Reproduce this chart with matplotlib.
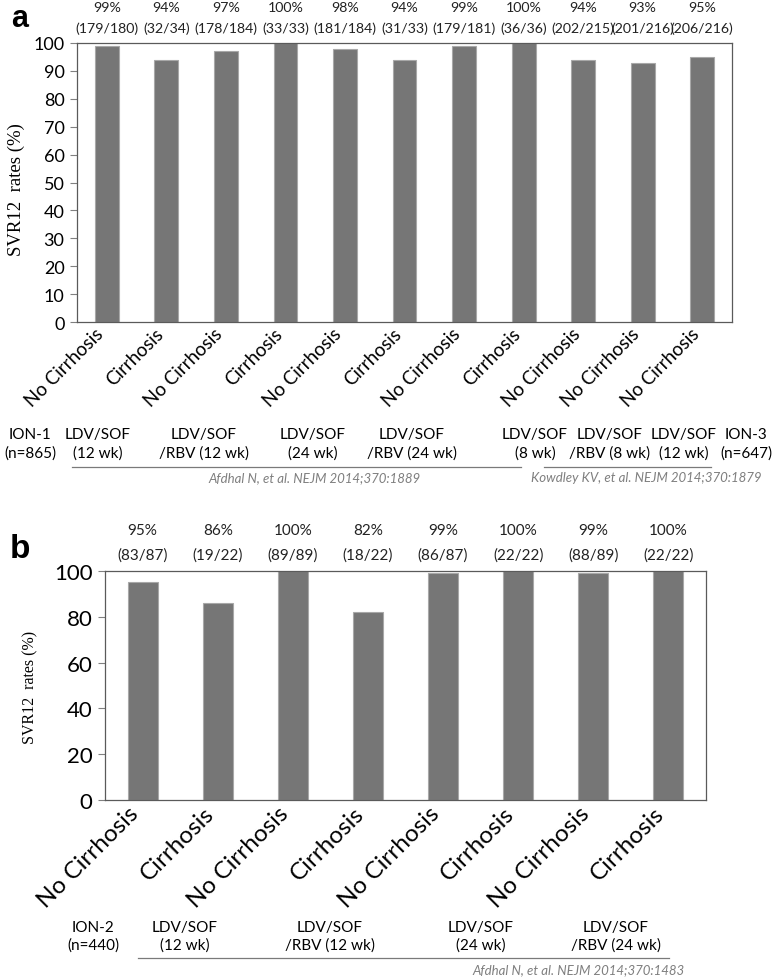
import matplotlib
matplotlib.use('Agg')
import matplotlib.pyplot as plt
from matplotlib.lines import Line2D
import matplotlib.transforms as mtransforms

plt.rcParams.update({
    'font.family': ['Lato', 'DejaVu Sans'],
    'axes.unicode_minus': False,
})

W, H = 774, 979

# ---- data: panel a (ION-1 / ION-3) ----
a_cats = ['No Cirrhosis', 'Cirrhosis', 'No Cirrhosis', 'Cirrhosis', 'No Cirrhosis', 'Cirrhosis',
          'No Cirrhosis', 'Cirrhosis', 'No Cirrhosis', 'No Cirrhosis', 'No Cirrhosis']
a_pct = [99, 94, 97, 100, 98, 94, 99, 100, 94, 93, 95]
a_num = [179, 32, 178, 33, 181, 31, 179, 36, 202, 201, 206]
a_den = [180, 34, 184, 33, 184, 33, 181, 36, 215, 216, 216]
a_ticks = [0, 10, 20, 30, 40, 50, 60, 70, 80, 90, 100]

# ---- data: panel b (ION-2) ----
b_cats = ['No Cirrhosis', 'Cirrhosis'] * 4
b_pct = [95, 86, 100, 82, 99, 100, 99, 100]
b_num = [83, 19, 89, 18, 86, 22, 88, 22]
b_den = [87, 22, 89, 22, 87, 22, 89, 22]
b_ticks = [0, 20, 40, 60, 80, 100]

a_groups = ['ION-1\n(n=865)', 'LDV/SOF\n(12 wk)', 'LDV/SOF\n/RBV (12 wk)', 'LDV/SOF\n(24 wk)',
            'LDV/SOF\n/RBV (24 wk)', 'LDV/SOF\n(8 wk)', 'LDV/SOF\n/RBV (8 wk)', 'LDV/SOF\n(12 wk)',
            'ION-3\n(n=647)']
b_groups = ['ION-2\n(n=440)', 'LDV/SOF\n(12 wk)', 'LDV/SOF\n/RBV (12 wk)', 'LDV/SOF\n(24 wk)',
            'LDV/SOF\n/RBV (24 wk)']

BAR = '#767676'
EDGE = '#a8a8a8'
FRAME = '#5a5a5a'
CITE = '#7f7f7f'


def fx(px):
    return px / W


def fy(py):
    return 1 - py / H


def box(l, t, r, b):
    return [fx(l), fy(b), fx(r) - fx(l), fy(t) - fy(b)]


def panel(ax, cats, pct, num, den, ticks, tick_fs, cat_fs, ann_fs, y_pct, y_frac):
    x = range(len(cats))
    ax.bar(x, pct, width=0.4, color=BAR, edgecolor=EDGE, linewidth=0.8, zorder=2)
    ax.set_xlim(-0.5, len(cats) - 0.5)
    ax.set_ylim(0, 100)
    ax.set_yticks(ticks)
    ax.tick_params(axis='y', labelsize=tick_fs, length=5, color='#808080', width=0.8, pad=4)
    ax.set_xticks(list(x))
    ax.set_xticklabels(cats, rotation=45, ha='right', fontsize=cat_fs)
    ax.tick_params(axis='x', length=0, pad=2)
    for s in ax.spines.values():
        s.set_color(FRAME)
        s.set_linewidth(0.9)
    trans = mtransforms.blended_transform_factory(ax.transData, ax.transAxes)
    for i, (p, n, d) in enumerate(zip(pct, num, den)):
        ax.text(i, y_pct, f'{p}%', transform=trans, ha='center', va='center', fontsize=ann_fs,
                color='#222222')
        ax.text(i, y_frac, f'({n}/{d})', transform=trans, ha='center', va='center',
                fontsize=ann_fs, color='#222222')


fig = plt.figure(figsize=(W / 100, H / 100), dpi=100)

# ----- panel a -----
axa = fig.add_axes(box(77, 44, 732, 323))
panel(axa, a_cats, a_pct, a_num, a_den, a_ticks, 13, 13.5, 10.2, 1.129, 1.054)
fig.text(fx(16), fy(190), 'SVR12  rates (%)', rotation=90, ha='center', va='center',
         fontsize=13.5, family='Liberation Serif')
fig.text(fx(20), fy(19), 'a', ha='center', va='center', fontsize=22, fontweight='bold',
         family='Liberation Sans')

a_gx = [30, 98, 204, 313, 412, 535, 610, 684, 746]
for gx, g in zip(a_gx, a_groups):
    fig.text(fx(gx), fy(444), g, ha='center', va='center', fontsize=11, linespacing=1.4)
fig.add_artist(Line2D([fx(72), fx(521)], [fy(468), fy(468)], color='#7a7a7a', lw=0.9))
fig.add_artist(Line2D([fx(544), fx(711)], [fy(468), fy(468)], color='#7a7a7a', lw=0.9))
fig.text(fx(315), fy(478), 'Afdhal N, et al. NEJM 2014;370:1889', ha='center', va='center',
         fontsize=9.5, style='italic', color=CITE)
fig.text(fx(646), fy(478), 'Kowdley KV, et al. NEJM 2014;370:1879', ha='center', va='center',
         fontsize=9.5, style='italic', color=CITE)

# ----- panel b -----
axb = fig.add_axes(box(105, 572, 706, 801))
panel(axb, b_cats, b_pct, b_num, b_den, b_ticks, 16, 17.5, 11, 1.179, 1.074)
fig.text(fx(30), fy(687), 'SVR12  rates (%)', rotation=90, ha='center', va='center',
         fontsize=11.5, family='Liberation Serif')
fig.text(fx(20), fy(550), 'b', ha='center', va='center', fontsize=24, fontweight='bold',
         family='Liberation Sans')

b_gx = [93, 185, 330, 481, 616]
for gx, g in zip(b_gx, b_groups):
    fig.text(fx(gx), fy(937), g, ha='center', va='center', fontsize=11, linespacing=1.35)
fig.add_artist(Line2D([fx(138), fx(669)], [fy(959), fy(959)], color='#7a7a7a', lw=0.9))
fig.text(fx(578), fy(970), 'Afdhal N, et al. NEJM 2014;370:1483', ha='center', va='center',
         fontsize=9.5, style='italic', color=CITE)

fig.savefig('out.png', dpi=100, facecolor='white')
